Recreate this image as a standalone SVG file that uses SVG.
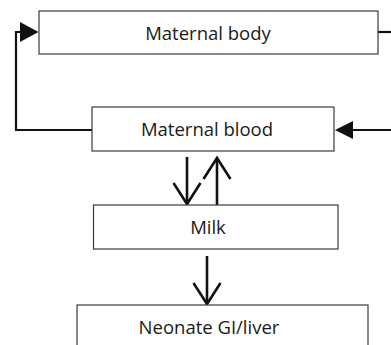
<svg xmlns="http://www.w3.org/2000/svg" width="391" height="345" viewBox="0 0 391 345">
  <style>
    .box { fill: #ffffff; stroke: #3a3a3a; stroke-width: 1.2; }
    .label { font-family: "Open Sans", "Liberation Sans", sans-serif; font-size: 18.5px; fill: #1a1a1a; text-anchor: middle; }
    .wire { fill: none; stroke: #111111; stroke-width: 2.2; }
    .flow { fill: none; stroke: #111111; stroke-width: 2.6; }
    .head { fill: #111111; stroke: none; }
  </style>
  <rect width="391" height="345" fill="#ffffff"/>

  <g id="connectors">
    <!-- feedback loop: blood back to body -->
    <polyline class="wire" points="92,130 16,130 16,32 21,32"/>
    <polygon class="head" points="20,22 38.5,32 20,42"/>
    <!-- line leaving body to the right, returning into blood -->
    <line class="wire" x1="378" y1="32" x2="391" y2="32"/>
    <line class="wire" x1="352" y1="130" x2="391" y2="130"/>
    <polygon class="head" points="353,121 335,130 353,139"/>
    <!-- blood to milk -->
    <line class="flow" x1="187" y1="157" x2="187" y2="204"/>
    <polyline class="flow" points="173.5,183 187,204 200.5,183"/>
    <!-- milk to blood -->
    <line class="flow" x1="217" y1="205" x2="217" y2="158"/>
    <polyline class="flow" points="203.5,179 217,158 230.5,179"/>
    <!-- milk to neonate -->
    <line class="flow" x1="207" y1="256" x2="207" y2="304"/>
    <polyline class="flow" points="193.5,283 207,304 220.5,283"/>
  </g>

  <g id="maternal-body">
    <rect class="box" x="39" y="11" width="339" height="43"/>
    <text class="label" x="208" y="39.5">Maternal body</text>
  </g>
  <g id="maternal-blood">
    <rect class="box" x="92" y="107" width="242" height="44"/>
    <text class="label" x="207" y="136">Maternal blood</text>
  </g>
  <g id="milk">
    <rect class="box" x="93.5" y="205" width="244.5" height="44"/>
    <text class="label" x="208" y="233.5">Milk</text>
  </g>
  <g id="neonate">
    <rect class="box" x="77" y="305" width="291" height="50"/>
    <text class="label" x="209" y="334">Neonate GI/liver</text>
  </g>
</svg>
